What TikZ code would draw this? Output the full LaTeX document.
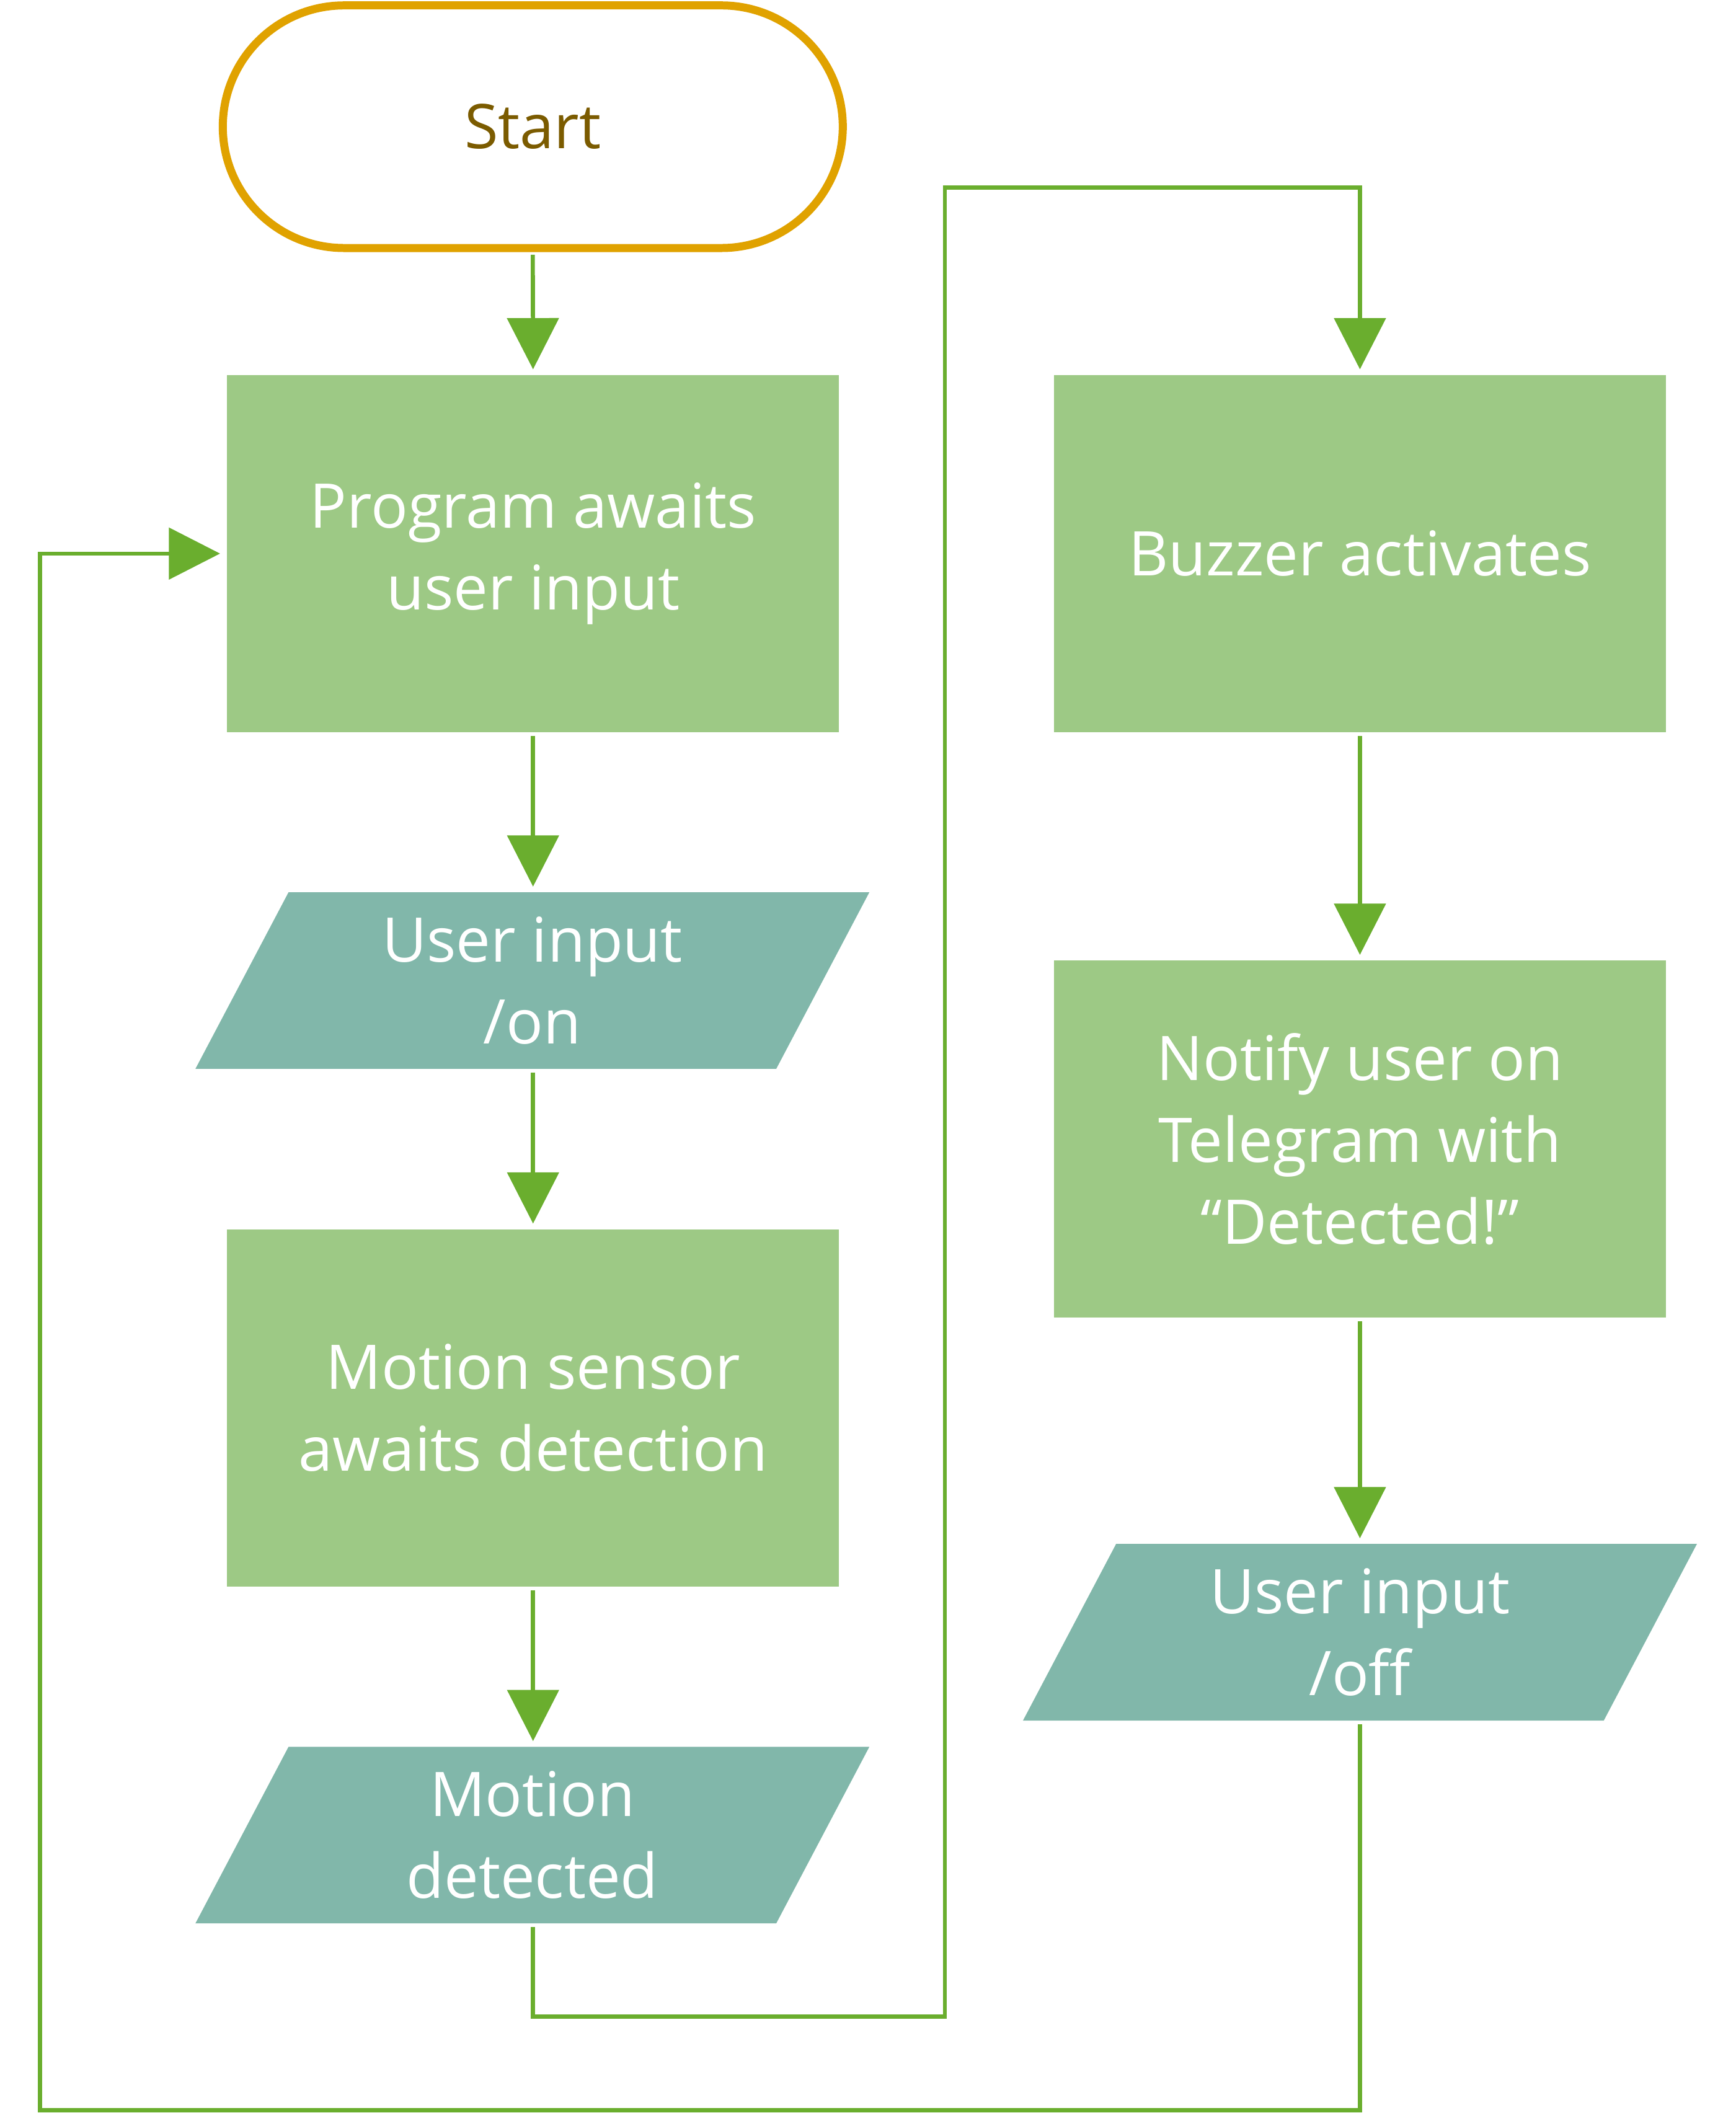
\documentclass[tikz,border=0pt]{standalone}
\usepackage{fontspec}
\setmainfont{Open Sans}
\usetikzlibrary{arrows.meta,shapes.geometric}
\definecolor{startline}{HTML}{E0A200}
\definecolor{starttext}{HTML}{7B5B00}
\definecolor{procfill}{HTML}{9DC985}
\definecolor{iofill}{HTML}{81B7AA}
\definecolor{flowline}{HTML}{6AAE2E}
\begin{document}
\begin{tikzpicture}[
    every node/.style={align=center, font=\fontsize{13pt}{17.3pt}\selectfont},
    terminal/.style={draw=startline, line width=1.7pt, rounded corners=0.9cm, minimum width=4.6cm, minimum height=1.8cm, text=starttext},
    process/.style={fill=procfill, minimum width=4.54cm, minimum height=2.65cm, text=white},
    io/.style={trapezium, trapezium left angle=59.7, trapezium right angle=120.3, trapezium stretches body, fill=iofill, minimum width=5cm, minimum height=1.31cm, text=white},
    flow/.style={flowline, line width=0.87pt, -{Triangle[length=0.38cm,width=0.38cm]}, shorten >=0.035cm, shorten <=0.02cm}
]
        \useasboundingbox (0,0) rectangle (12.88,-15.677);

        \node[terminal] (start) at (3.953,-0.94) {Start};
        \node[process] (prog) at (3.955,-4.107) {Program awaits\\user input};
        \node[io] (on) at (3.95,-7.275) {User input\\/on};
        \node[process] (sensor) at (3.955,-10.445) {Motion sensor\\awaits detection};
        \node[io] (detected) at (3.95,-13.615) {Motion\\detected};

        \node[process] (buzz) at (10.09,-4.107) {Buzzer activates};
        \node[process] (notify) at (10.09,-8.451) {Notify user on\\Telegram with\\“Detected!”};
        \node[io] (off) at (10.09,-12.11) {User input\\/off};

        \coordinate (midlow) at (7.01,-14.96);
        \coordinate (midtop) at (7.01,-1.39);
        \coordinate (leftlow) at (0.297,-15.657);

        \draw[flow] (start.south) -- (prog.north);
        \draw[flow] (prog.south) -- (prog.south |- on.north);
        \draw[flow] (prog.south |- on.south) -- (sensor.north);
        \draw[flow] (sensor.south) -- (sensor.south |- detected.north);
        \draw[flow] (sensor.south |- detected.south) |- (midlow) -- (midtop) -| (buzz.north);
        \draw[flow] (buzz.south) -- (notify.north);
        \draw[flow] (notify.south) -- (notify.south |- off.north);
        \draw[flow, shorten >=0.045cm] (notify.south |- off.south) |- (leftlow) |- (prog.west);
    \end{tikzpicture}
\end{document}
